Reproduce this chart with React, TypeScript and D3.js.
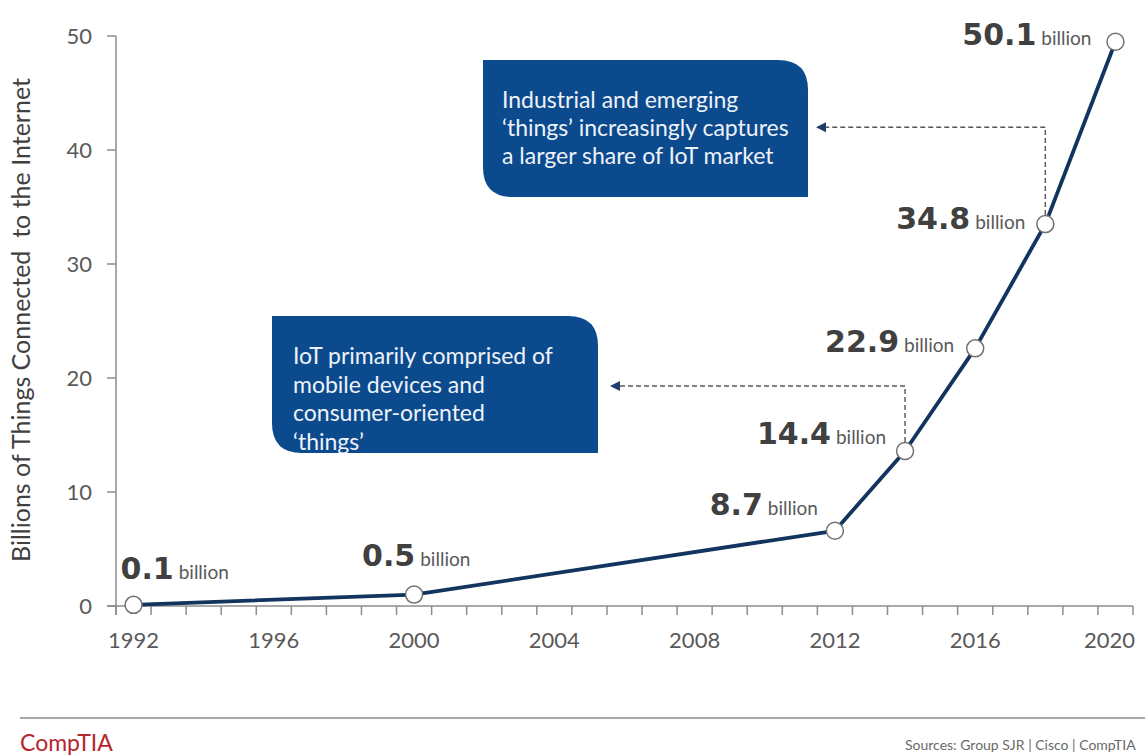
import React from "react";
import * as d3 from "d3";

// ---- data ----
const years = [1992, 2000, 2012, 2014, 2016, 2018, 2020];
const labelValues = ["0.1", "0.5", "8.7", "14.4", "22.9", "34.8", "50.1"];
// positions of the markers as drawn in the reference (billions)
const plottedValues = [0.1, 1.0, 6.6, 13.6, 22.6, 33.5, 49.5];
const axisYears = d3.range(1992, 2021);
const xTickLabels = [1992, 1996, 2000, 2004, 2008, 2012, 2016, 2020];
const yTicks = [0, 10, 20, 30, 40, 50];

const box1Lines = ["Industrial and emerging", "\u2018things\u2019 increasingly captures", "a larger share of IoT market"];
const box2Lines = ["IoT primarily comprised of", "mobile devices and", "consumer-oriented", "\u2018things\u2019"];

// label placement relative to marker (layout only)
const labelPlacement = [
  { anchor: "start", dx: -13, dy: -26 },
  { anchor: "start", dx: -52, dy: -29 },
  { anchor: "end", dx: -17, dy: -16 },
  { anchor: "end", dx: -19, dy: -7 },
  { anchor: "end", dx: -21, dy: 4 },
  { anchor: "end", dx: -20, dy: 5 },
  { anchor: "end", dx: -24, dy: 3 },
];

const W = 1145;
const H = 755;
const FONT = "Lato, 'Open Sans', sans-serif";
const NUMFONT = "'DejaVu Sans', Lato, sans-serif";

function boxPath(x: number, y: number, w: number, h: number, r: number) {
  // square TL and BR, rounded TR and BL
  return `M${x},${y} H${x + w - r} Q${x + w},${y} ${x + w},${y + r} V${y + h} H${x + r} Q${x},${y + h} ${x},${y + h - r} Z`;
}

export default function App() {
  const x = d3.scaleBand<number>().domain(axisYears).range([116, 1133]).paddingInner(0).paddingOuter(0);
  const y = d3.scaleLinear().domain([0, 50]).range([606, 36]);
  const cx = (yr: number) => (x(yr) as number) + x.bandwidth() / 2;

  const pts = years.map((yr, i) => [cx(yr), y(plottedValues[i])] as [number, number]);
  const line = d3.line<[number, number]>().x((d) => d[0]).y((d) => d[1]);

  const tickBoundaries = axisYears.map((yr) => x(yr) as number).concat([(x(2020) as number) + x.bandwidth()]);

  const navy = "#0c4a8e";
  const axisColor = "#8c8c8c";

  // annotation arrows anchored on data markers
  const a1x = cx(2018);
  const a1y = y(42);
  const a2x = cx(2014);
  const a2y = y(19.3);

  return (
    <svg width={W} height={H} style={{ position: "absolute", left: 0, top: 0, background: "#fff" }} fontFamily={FONT}>
      <rect x={0} y={0} width={W} height={H} fill="#fff" />
      <defs>
        <clipPath id="b1">
          <path d={boxPath(483, 60, 325, 137, 30)} />
        </clipPath>
        <clipPath id="b2">
          <path d={boxPath(272, 316, 326, 137, 30)} />
        </clipPath>
      </defs>

      {/* y axis title */}
      <text
        transform={`translate(30,320) rotate(-90)`}
        textAnchor="middle"
        fontSize={25}
        fill="#404040"
      >
        Billions of Things Connected&#160; to the Internet
      </text>

      {/* y axis */}
      <line x1={116} x2={116} y1={y(50)} y2={615} stroke={axisColor} strokeWidth={1.5} />
      {yTicks.map((t) => (
        <g key={t}>
          <line x1={107} x2={116} y1={y(t)} y2={y(t)} stroke={axisColor} strokeWidth={1.5} />
          <text x={92} y={y(t)} dy="0.35em" textAnchor="end" fontSize={22} fill="#595959">
            {t}
          </text>
        </g>
      ))}

      {/* x axis */}
      <line x1={107} x2={1133} y1={y(0)} y2={y(0)} stroke={axisColor} strokeWidth={1.5} />
      {tickBoundaries.map((tx, i) => (
        <line key={i} x1={tx} x2={tx} y1={y(0)} y2={615} stroke={axisColor} strokeWidth={1.5} />
      ))}
      {xTickLabels.map((yr) => (
        <text key={yr} x={yr === 2020 ? cx(yr) - 6 : cx(yr)} y={648} textAnchor="middle" fontSize={22} fill="#595959">
          {yr}
        </text>
      ))}

      {/* annotation boxes */}
      <path d={boxPath(483, 60, 325, 137, 30)} fill={navy} />
      <g clipPath="url(#b1)">
        {box1Lines.map((l, i) => (
          <text key={i} x={502} y={108 + i * 28} fontSize={23} fill="#eef2f8">
            {l}
          </text>
        ))}
      </g>
      <path d={boxPath(272, 316, 326, 137, 30)} fill={navy} />
      <g clipPath="url(#b2)">
        {box2Lines.map((l, i) => (
          <text key={i} x={293} y={364 + i * 28.5} fontSize={23} fill="#eef2f8">
            {l}
          </text>
        ))}
      </g>

      {/* dashed arrows */}
      <path
        d={`M${a1x},${pts[5][1] - 9} V${a1y} H${826}`}
        fill="none"
        stroke="#555"
        strokeWidth={1.4}
        strokeDasharray="5,3"
      />
      <path d={`M${816},${a1y} l10,-5 v10 Z`} fill="#1f3c6a" />
      <path
        d={`M${a2x},${pts[3][1] - 9} V${a2y} H${620}`}
        fill="none"
        stroke="#555"
        strokeWidth={1.4}
        strokeDasharray="5,3"
      />
      <path d={`M${610},${a2y} l10,-5 v10 Z`} fill="#1f3c6a" />

      {/* line */}
      <path d={line(pts) || ""} fill="none" stroke="#12345e" strokeWidth={3.8} strokeLinejoin="round" />
      {pts.map((p, i) => (
        <circle key={i} cx={p[0]} cy={p[1]} r={8.5} fill="#fff" stroke="#707070" strokeWidth={1.5} />
      ))}

      {/* value labels */}
      {pts.map((p, i) => {
        const pl = labelPlacement[i];
        return (
          <text key={i} x={p[0] + pl.dx} y={p[1] + pl.dy} textAnchor={pl.anchor as any} fill="#404040">
            <tspan fontSize={30} fontWeight={700} fontFamily={NUMFONT}>
              {labelValues[i]}
            </tspan>
            <tspan fontSize={19} fill="#595959" dx={5}>
              billion
            </tspan>
          </text>
        );
      })}

      {/* footer */}
      <line x1={20} x2={W} y1={718} y2={718} stroke="#8a8a8a" strokeWidth={1.5} />
      <text x={20} y={751} fontSize={23} fill="#b5262f" fontWeight={400}>
        CompTIA
      </text>
      <text x={905} y={750} fontSize={14} fill="#6a6a6a">
        Sources: Group SJR | Cisco | CompTIA
      </text>
    </svg>
  );
}
